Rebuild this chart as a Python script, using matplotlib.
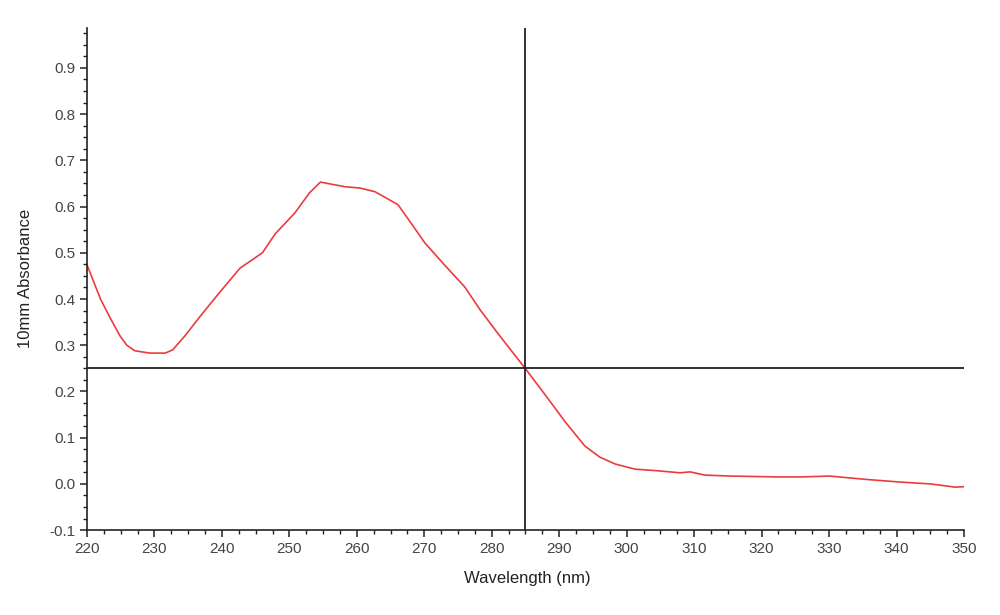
import numpy as np
import matplotlib.pyplot as plt
from matplotlib.ticker import MultipleLocator

# spectrum
wavelength = [220.0, 222.0, 223.4, 224.9, 225.9, 227.1, 229.3, 231.6, 232.7, 234.5,
              236.8, 239.7, 242.7, 246.0, 247.9, 250.8, 253.0, 254.6, 256.0, 258.2,
              260.5, 262.7, 264.9, 266.1, 267.9, 270.1, 273.1, 276.0, 278.3, 281.2,
              285.0, 287.9, 290.9, 293.8, 296.0, 298.3, 301.2, 304.9, 307.9, 309.4,
              311.6, 315.3, 322.7, 325.7, 330.1, 333.0, 336.1, 340.5, 345.0, 348.7,
              350.0]
absorbance = [0.474, 0.400, 0.360, 0.320, 0.300, 0.288, 0.283, 0.283, 0.290, 0.320,
              0.363, 0.415, 0.467, 0.500, 0.541, 0.586, 0.630, 0.653, 0.649, 0.643,
              0.640, 0.632, 0.614, 0.604, 0.567, 0.521, 0.472, 0.426, 0.376, 0.320,
              0.249, 0.193, 0.134, 0.082, 0.058, 0.043, 0.032, 0.028, 0.024, 0.026,
              0.019, 0.017, 0.015, 0.015, 0.017, 0.013, 0.009, 0.004, 0.000, -0.007,
              -0.006]

cursor_x = 285.0
cursor_y = 0.25

plt.rcParams['font.family'] = ['Liberation Sans', 'DejaVu Sans']

fig = plt.figure(figsize=(10, 6.15), dpi=100)
ax = fig.add_axes([0.087, 0.138, 0.877, 0.817])

ax.plot(wavelength, absorbance, color='#ec3b3f', linewidth=1.2)
ax.axvline(cursor_x, color='#222222', linewidth=1.3)
ax.axhline(cursor_y, color='#222222', linewidth=1.3)

ax.set_xlim(220, 350)
ax.set_ylim(-0.1, 0.987)
ax.xaxis.set_major_locator(MultipleLocator(10))
ax.xaxis.set_minor_locator(MultipleLocator(2.5))
ax.yaxis.set_major_locator(MultipleLocator(0.1))
ax.yaxis.set_minor_locator(MultipleLocator(0.025))
ax.yaxis.set_major_formatter(plt.FuncFormatter(lambda v, p: f'{v:.1f}'))

for s in ['top', 'right']:
    ax.spines[s].set_visible(False)
for s in ['left', 'bottom']:
    ax.spines[s].set_color('#222222')
    ax.spines[s].set_linewidth(1.2)

ax.tick_params(which='major', direction='out', length=5, width=1.1,
               colors='#222222', labelcolor='#444444', labelsize=11)
ax.tick_params(which='minor', direction='out', length=3, width=1.0, colors='#222222')

ax.set_xlabel('Wavelength (nm)', fontsize=12, color='#222222')
ax.set_ylabel('10mm Absorbance', fontsize=12, color='#222222')
ax.xaxis.set_label_coords(0.502, -0.082)
ax.yaxis.set_label_coords(-0.062, 0.5)

fig.savefig('out.png', dpi=100, facecolor='white')
